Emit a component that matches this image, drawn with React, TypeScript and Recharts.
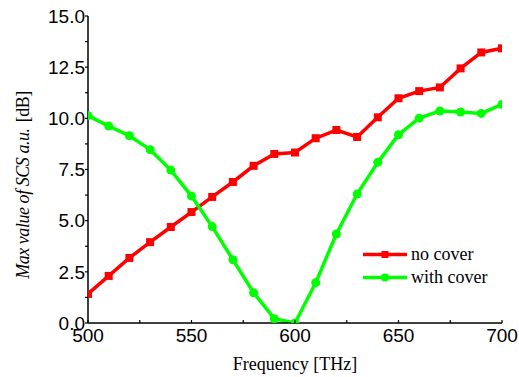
import React from 'react';
import { LineChart, Line, XAxis, YAxis, Legend } from 'recharts';

const frequencies = [500, 510, 520, 530, 540, 550, 560, 570, 580, 590, 600, 610, 620, 630, 640, 650, 660, 670, 680, 690, 700];
const noCover = [1.42, 2.3, 3.18, 3.95, 4.69, 5.42, 6.16, 6.89, 7.68, 8.26, 8.33, 9.03, 9.43, 9.09, 10.05, 10.98, 11.33, 11.51, 12.44, 13.22, 13.42];
const withCover = [10.13, 9.62, 9.15, 8.47, 7.47, 6.2, 4.71, 3.09, 1.48, 0.21, 0.0, 1.97, 4.35, 6.3, 7.85, 9.2, 10.01, 10.36, 10.31, 10.24, 10.68];
const xTicks = [500, 525, 550, 575, 600, 625, 650, 675, 700];
const yTicks = [0, 1.25, 2.5, 3.75, 5, 6.25, 7.5, 8.75, 10, 11.25, 12.5, 13.75, 15];

const data = frequencies.map((f, i) => ({ f, noCover: noCover[i], withCover: withCover[i] }));

const RED = '#ff0000';
const GREEN = '#00ff00';
const SANS = '"Liberation Sans", Arial, sans-serif';
const SERIF = '"Liberation Serif", "Times New Roman", serif';

const YTick = (props: any) => {
  const { x, y, payload } = props;
  const major = Math.abs(payload.value / 2.5 - Math.round(payload.value / 2.5)) < 1e-6;
  return (
    <g>
      <line x1={x - 3} x2={x} y1={y} y2={y} stroke="#000" strokeWidth={1.2} />
      {major && (
        <text x={x - 3} y={y + 6.8} textAnchor="end" fontFamily={SANS} fontSize={19} fill="#000">
          {payload.value.toFixed(1)}
        </text>
      )}
    </g>
  );
};

const XTick = (props: any) => {
  const { x, y, payload } = props;
  const major = payload.value % 50 === 0;
  return (
    <g>
      <line x1={x} x2={x} y1={y} y2={y - 3} stroke="#000" strokeWidth={1.2} />
      {major && (
        <text x={x} y={y + 19} textAnchor="middle" fontFamily={SANS} fontSize={19} fill="#000">
          {payload.value}
        </text>
      )}
    </g>
  );
};

const SquareDot = (props: any) => {
  const { cx, cy, index } = props;
  if (cx == null || cy == null) return <g key={index} />;
  return <rect key={index} x={cx - 4} y={cy - 4} width={8} height={8} fill={RED} />;
};

const CircleDot = (props: any) => {
  const { cx, cy, index } = props;
  if (cx == null || cy == null) return <g key={index} />;
  return <circle key={index} cx={cx} cy={cy} r={4.5} fill={GREEN} />;
};

const LegendContent = (props: any) => {
  const { payload } = props;
  return (
    <div>
      {(payload || []).map((item: any) => {
        const isRed = item.dataKey === 'noCover';
        return (
          <div key={item.value} style={{ display: 'flex', alignItems: 'center', height: 23 }}>
            <svg width={44} height={23} style={{ display: 'block' }}>
              <line x1={0} x2={44} y1={11.5} y2={11.5} stroke={item.color} strokeWidth={3.5} />
              {isRed ? (
                <rect x={18.5} y={8} width={7} height={7} fill={item.color} />
              ) : (
                <circle cx={22} cy={11.5} r={4} fill={item.color} />
              )}
            </svg>
            <span style={{ fontFamily: SERIF, fontSize: 18, marginLeft: 4, color: '#000', lineHeight: '23px' }}>
              {item.value}
            </span>
          </div>
        );
      })}
    </div>
  );
};

const XLabel = (props: any) => {
  const { viewBox } = props;
  const cx = viewBox.x + viewBox.width / 2;
  return (
    <text x={cx} y={viewBox.y + 47} textAnchor="middle" fontFamily={SERIF} fontSize={18} fill="#000">
      Frequency [THz]
    </text>
  );
};

const YLabel = () => {
  return (
    <text
      x={0}
      y={0}
      transform="translate(29, 185) rotate(-90)"
      textAnchor="middle"
      fontFamily={SERIF}
      fontSize={18}
      letterSpacing={-0.45}
      fill="#000"
    >
      <tspan fontStyle="italic">Max value of SCS a.u.</tspan>
      <tspan dx={6}>[dB]</tspan>
    </text>
  );
};

export default function App() {
  return (
    <div style={{ position: 'absolute', left: 0, top: 0, width: 519, height: 377, background: '#fff' }}>
      <LineChart width={519} height={377} data={data} margin={{ top: 16, right: 17, bottom: 0, left: 0 }}>
        <XAxis
          dataKey="f"
          type="number"
          domain={[500, 700]}
          ticks={xTicks}
          interval={0}
          height={54}
          tickSize={0}
          tickMargin={0}
          tickLine={false}
          axisLine={{ stroke: '#000', strokeWidth: 1.5 }}
          tick={<XTick />}
          label={<XLabel />}
          allowDataOverflow
        />
        <YAxis
          type="number"
          domain={[0, 15]}
          ticks={yTicks}
          interval={0}
          width={88}
          tickSize={0}
          tickMargin={0}
          tickLine={false}
          axisLine={{ stroke: '#000', strokeWidth: 1.5 }}
          tick={<YTick />}
          label={<YLabel />}
          allowDataOverflow
        />
        <Legend
          layout="vertical"
          align="center"
          verticalAlign="middle"
          content={<LegendContent />}
          wrapperStyle={{ position: 'absolute', left: 363, top: 243, width: 140 }}
        />
        <Line
          type="linear"
          dataKey="noCover"
          name="no cover"
          stroke={RED}
          strokeWidth={3.5}
          dot={<SquareDot />}
          activeDot={false}
          isAnimationActive={false}
        />
        <Line
          type="linear"
          dataKey="withCover"
          name="with cover"
          stroke={GREEN}
          strokeWidth={3.5}
          dot={<CircleDot />}
          activeDot={false}
          isAnimationActive={false}
        />
      </LineChart>
    </div>
  );
}
